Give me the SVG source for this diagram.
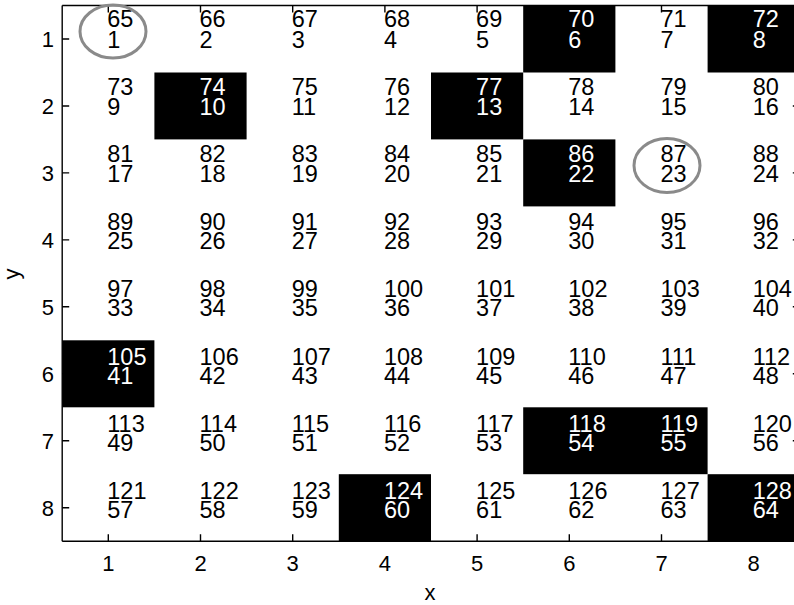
<svg xmlns="http://www.w3.org/2000/svg" width="794" height="605" viewBox="0 0 794 605">
<style>
.t{font-family:"Liberation Sans",Arial,sans-serif;font-size:23.5px;fill:#000}
.w{fill:#fff}
.blk{fill:#000}
.ax{stroke:#000;stroke-width:1.4;fill:none}
.tl{font-family:"Liberation Sans",Arial,sans-serif;font-size:22px;fill:#000}
.ring{fill:none;stroke:#8a8a8a;stroke-width:3}
</style>
<rect width="794" height="605" fill="#fff"/>
<g id="cells-fill">
<rect class="blk" x="523.2" y="5.5" width="92.2" height="67"/>
<rect class="blk" x="707.6" y="5.5" width="92.2" height="67"/>
<rect class="blk" x="154.4" y="72.5" width="92.2" height="66.9"/>
<rect class="blk" x="431" y="72.5" width="92.2" height="66.9"/>
<rect class="blk" x="523.2" y="139.4" width="92.2" height="67"/>
<rect class="blk" x="62.2" y="340.3" width="92.2" height="67"/>
<rect class="blk" x="523.2" y="407.3" width="184.4" height="66.9"/>
<rect class="blk" x="338.8" y="474.2" width="92.2" height="67"/>
<rect class="blk" x="707.6" y="474.2" width="92.2" height="67"/>
</g>
<g id="axes">
<path class="ax" d="M62.2,5.5H800M62.2,541.2H800M62.2,5.5V541.2"/>
<path class="ax" d="M108.3,541.2v-7M200.5,541.2v-7M292.7,541.2v-7M384.9,541.2v-7M477.1,541.2v-7M569.3,541.2v-7M661.5,541.2v-7M753.7,541.2v-7M108.3,5.5v7M200.5,5.5v7M292.7,5.5v7M384.9,5.5v7M477.1,5.5v7M569.3,5.5v7M661.5,5.5v7M753.7,5.5v7M62.2,39h7M62.2,106h7M62.2,172.9h7M62.2,239.9h7M62.2,306.8h7M62.2,373.8h7M62.2,440.8h7M62.2,507.7h7M799.8,39h-7M799.8,106h-7M799.8,172.9h-7M799.8,239.9h-7M799.8,306.8h-7M799.8,373.8h-7M799.8,440.8h-7M799.8,507.7h-7"/>
<g class="tl" text-anchor="middle">
<text x="108.3" y="571">1</text><text x="200.5" y="571">2</text><text x="292.7" y="571">3</text><text x="384.9" y="571">4</text><text x="477.1" y="571">5</text><text x="569.3" y="571">6</text><text x="661.5" y="571">7</text><text x="753.7" y="571">8</text>
<text x="430" y="600">x</text>
</g>
<g class="tl" text-anchor="end">
<text x="54" y="47">1</text><text x="54" y="114">2</text><text x="54" y="180.9">3</text><text x="54" y="247.9">4</text><text x="54" y="314.8">5</text><text x="54" y="381.8">6</text><text x="54" y="448.8">7</text><text x="54" y="515.7">8</text>
</g>
<text class="tl" text-anchor="middle" transform="translate(19,274) rotate(-90)">y</text>
</g>
<g id="r1">
<g id="c1"><text class="t" x="107.3" y="27.3">65</text><text class="t" x="107.3" y="48">1</text></g>
<g id="c2"><text class="t" x="199.5" y="27.3">66</text><text class="t" x="199.5" y="48">2</text></g>
<g id="c3"><text class="t" x="291.7" y="27.3">67</text><text class="t" x="291.7" y="48">3</text></g>
<g id="c4"><text class="t" x="383.9" y="27.3">68</text><text class="t" x="383.9" y="48">4</text></g>
<g id="c5"><text class="t" x="476.1" y="27.3">69</text><text class="t" x="476.1" y="48">5</text></g>
<g id="c6"><text class="t w" x="568.3" y="27.3">70</text><text class="t w" x="568.3" y="48">6</text></g>
<g id="c7"><text class="t" x="660.5" y="27.3">71</text><text class="t" x="660.5" y="48">7</text></g>
<g id="c8"><text class="t w" x="752.7" y="27.3">72</text><text class="t w" x="752.7" y="48">8</text></g>
</g>
<g id="r2">
<g id="c9"><text class="t" x="107.3" y="94.7">73</text><text class="t" x="107.3" y="115.1">9</text></g>
<g id="c10"><text class="t w" x="199.5" y="94.7">74</text><text class="t w" x="199.5" y="115.1">10</text></g>
<g id="c11"><text class="t" x="291.7" y="94.7">75</text><text class="t" x="291.7" y="115.1">11</text></g>
<g id="c12"><text class="t" x="383.9" y="94.7">76</text><text class="t" x="383.9" y="115.1">12</text></g>
<g id="c13"><text class="t w" x="476.1" y="94.7">77</text><text class="t w" x="476.1" y="115.1">13</text></g>
<g id="c14"><text class="t" x="568.3" y="94.7">78</text><text class="t" x="568.3" y="115.1">14</text></g>
<g id="c15"><text class="t" x="660.5" y="94.7">79</text><text class="t" x="660.5" y="115.1">15</text></g>
<g id="c16"><text class="t" x="752.7" y="94.7">80</text><text class="t" x="752.7" y="115.1">16</text></g>
</g>
<g id="r3">
<g id="c17"><text class="t" x="107.3" y="162.2">81</text><text class="t" x="107.3" y="182.2">17</text></g>
<g id="c18"><text class="t" x="199.5" y="162.2">82</text><text class="t" x="199.5" y="182.2">18</text></g>
<g id="c19"><text class="t" x="291.7" y="162.2">83</text><text class="t" x="291.7" y="182.2">19</text></g>
<g id="c20"><text class="t" x="383.9" y="162.2">84</text><text class="t" x="383.9" y="182.2">20</text></g>
<g id="c21"><text class="t" x="476.1" y="162.2">85</text><text class="t" x="476.1" y="182.2">21</text></g>
<g id="c22"><text class="t w" x="568.3" y="162.2">86</text><text class="t w" x="568.3" y="182.2">22</text></g>
<g id="c23"><text class="t" x="660.5" y="162.2">87</text><text class="t" x="660.5" y="182.2">23</text></g>
<g id="c24"><text class="t" x="752.7" y="162.2">88</text><text class="t" x="752.7" y="182.2">24</text></g>
</g>
<g id="r4">
<g id="c25"><text class="t" x="107.3" y="229.6">89</text><text class="t" x="107.3" y="249.3">25</text></g>
<g id="c26"><text class="t" x="199.5" y="229.6">90</text><text class="t" x="199.5" y="249.3">26</text></g>
<g id="c27"><text class="t" x="291.7" y="229.6">91</text><text class="t" x="291.7" y="249.3">27</text></g>
<g id="c28"><text class="t" x="383.9" y="229.6">92</text><text class="t" x="383.9" y="249.3">28</text></g>
<g id="c29"><text class="t" x="476.1" y="229.6">93</text><text class="t" x="476.1" y="249.3">29</text></g>
<g id="c30"><text class="t" x="568.3" y="229.6">94</text><text class="t" x="568.3" y="249.3">30</text></g>
<g id="c31"><text class="t" x="660.5" y="229.6">95</text><text class="t" x="660.5" y="249.3">31</text></g>
<g id="c32"><text class="t" x="752.7" y="229.6">96</text><text class="t" x="752.7" y="249.3">32</text></g>
</g>
<g id="r5">
<g id="c33"><text class="t" x="107.3" y="297">97</text><text class="t" x="107.3" y="316.4">33</text></g>
<g id="c34"><text class="t" x="199.5" y="297">98</text><text class="t" x="199.5" y="316.4">34</text></g>
<g id="c35"><text class="t" x="291.7" y="297">99</text><text class="t" x="291.7" y="316.4">35</text></g>
<g id="c36"><text class="t" x="383.9" y="297">100</text><text class="t" x="383.9" y="316.4">36</text></g>
<g id="c37"><text class="t" x="476.1" y="297">101</text><text class="t" x="476.1" y="316.4">37</text></g>
<g id="c38"><text class="t" x="568.3" y="297">102</text><text class="t" x="568.3" y="316.4">38</text></g>
<g id="c39"><text class="t" x="660.5" y="297">103</text><text class="t" x="660.5" y="316.4">39</text></g>
<g id="c40"><text class="t" x="752.7" y="297">104</text><text class="t" x="752.7" y="316.4">40</text></g>
</g>
<g id="r6">
<g id="c41"><text class="t w" x="107.3" y="364.5">105</text><text class="t w" x="107.3" y="383.5">41</text></g>
<g id="c42"><text class="t" x="199.5" y="364.5">106</text><text class="t" x="199.5" y="383.5">42</text></g>
<g id="c43"><text class="t" x="291.7" y="364.5">107</text><text class="t" x="291.7" y="383.5">43</text></g>
<g id="c44"><text class="t" x="383.9" y="364.5">108</text><text class="t" x="383.9" y="383.5">44</text></g>
<g id="c45"><text class="t" x="476.1" y="364.5">109</text><text class="t" x="476.1" y="383.5">45</text></g>
<g id="c46"><text class="t" x="568.3" y="364.5">110</text><text class="t" x="568.3" y="383.5">46</text></g>
<g id="c47"><text class="t" x="660.5" y="364.5">111</text><text class="t" x="660.5" y="383.5">47</text></g>
<g id="c48"><text class="t" x="752.7" y="364.5">112</text><text class="t" x="752.7" y="383.5">48</text></g>
</g>
<g id="r7">
<g id="c49"><text class="t" x="107.3" y="431.9">113</text><text class="t" x="107.3" y="450.6">49</text></g>
<g id="c50"><text class="t" x="199.5" y="431.9">114</text><text class="t" x="199.5" y="450.6">50</text></g>
<g id="c51"><text class="t" x="291.7" y="431.9">115</text><text class="t" x="291.7" y="450.6">51</text></g>
<g id="c52"><text class="t" x="383.9" y="431.9">116</text><text class="t" x="383.9" y="450.6">52</text></g>
<g id="c53"><text class="t" x="476.1" y="431.9">117</text><text class="t" x="476.1" y="450.6">53</text></g>
<g id="c54"><text class="t w" x="568.3" y="431.9">118</text><text class="t w" x="568.3" y="450.6">54</text></g>
<g id="c55"><text class="t w" x="660.5" y="431.9">119</text><text class="t w" x="660.5" y="450.6">55</text></g>
<g id="c56"><text class="t" x="752.7" y="431.9">120</text><text class="t" x="752.7" y="450.6">56</text></g>
</g>
<g id="r8">
<g id="c57"><text class="t" x="107.3" y="499.3">121</text><text class="t" x="107.3" y="517.7">57</text></g>
<g id="c58"><text class="t" x="199.5" y="499.3">122</text><text class="t" x="199.5" y="517.7">58</text></g>
<g id="c59"><text class="t" x="291.7" y="499.3">123</text><text class="t" x="291.7" y="517.7">59</text></g>
<g id="c60"><text class="t w" x="383.9" y="499.3">124</text><text class="t w" x="383.9" y="517.7">60</text></g>
<g id="c61"><text class="t" x="476.1" y="499.3">125</text><text class="t" x="476.1" y="517.7">61</text></g>
<g id="c62"><text class="t" x="568.3" y="499.3">126</text><text class="t" x="568.3" y="517.7">62</text></g>
<g id="c63"><text class="t" x="660.5" y="499.3">127</text><text class="t" x="660.5" y="517.7">63</text></g>
<g id="c64"><text class="t w" x="752.7" y="499.3">128</text><text class="t w" x="752.7" y="517.7">64</text></g>
</g>
<g id="rings">
<ellipse class="ring" cx="113" cy="31.5" rx="33" ry="26.5"/>
<ellipse class="ring" cx="667" cy="165.5" rx="33" ry="27"/>
</g>
</svg>
